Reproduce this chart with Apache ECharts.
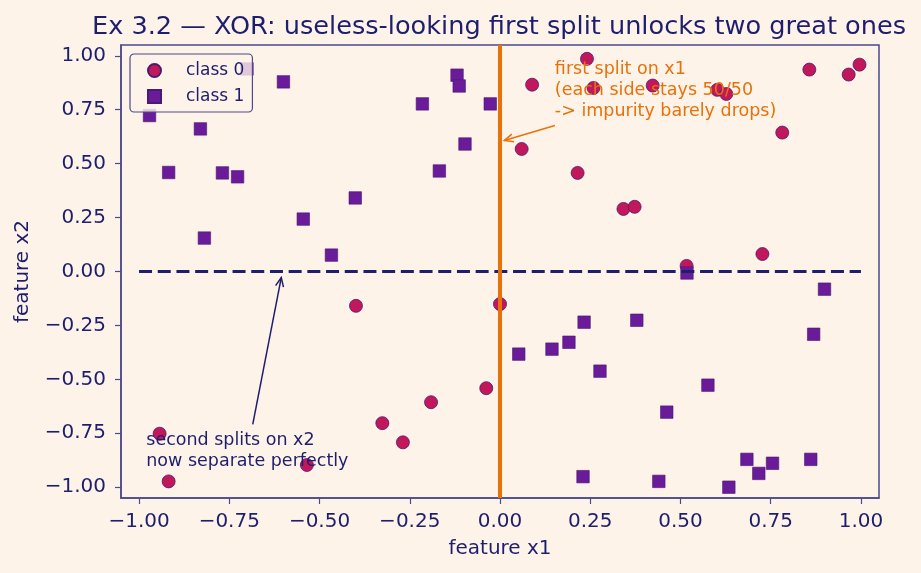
<!DOCTYPE html>
<html>
<head>
<meta charset="utf-8">
<script src="https://cdn.jsdelivr.net/npm/echarts@6/dist/echarts.min.js"></script>
<style>
  html, body { margin: 0; padding: 0; background: #fef3e8; }
  #chart { width: 921px; height: 573px; }
</style>
</head>
<body>
<div id="chart"></div>
<script>
// points: [x1, x2]
const class0 = [
  [0.241, 0.986], [0.089, 0.866], [0.259, 0.851], [0.423, 0.862], [0.602, 0.842],
  [0.627, 0.823], [0.857, 0.936], [0.966, 0.913], [0.996, 0.959], [0.060, 0.568],
  [0.782, 0.644], [0.215, 0.457], [0.342, 0.290], [0.373, 0.300], [0.727, 0.081],
  [0.517, 0.026],
  [-0.399, -0.159], [0.000, -0.151], [-0.038, -0.541], [-0.191, -0.606], [-0.326, -0.703],
  [-0.269, -0.792], [-0.943, -0.752], [-0.918, -0.973], [-0.535, -0.897]
];
const class1 = [
  [-0.971, 0.723], [-0.600, 0.879], [-0.830, 0.661], [-0.918, 0.459], [-0.769, 0.457],
  [-0.727, 0.439], [-0.819, 0.155], [-0.545, 0.243], [-0.467, 0.076], [-0.401, 0.341],
  [-0.215, 0.777], [-0.119, 0.910], [-0.113, 0.860], [-0.027, 0.777], [-0.097, 0.591],
  [-0.168, 0.466], [-0.701, 0.939],
  [0.518, -0.007], [0.052, -0.383],
  [0.899, -0.082], [0.869, -0.291], [0.233, -0.235], [0.379, -0.226], [0.144, -0.360],
  [0.191, -0.328], [0.277, -0.462], [0.576, -0.527], [0.462, -0.652], [0.684, -0.871],
  [0.717, -0.936], [0.755, -0.889], [0.861, -0.871], [0.230, -0.951], [0.440, -0.973],
  [0.634, -1.000]
];
const tickValues = [-1, -0.75, -0.5, -0.25, 0, 0.25, 0.5, 0.75, 1];
const firstSplitX1 = 0;
const secondSplitX2 = 0;
const secondSplitSpan = [-1, 1];

const annotations = [
  {
    lines: ['first split on x1', '(each side stays 50/50', '-> impurity barely drops)'],
    textAt: [0.152, 0.937], tail: [0.152, 0.677], head: [0.012, 0.607], color: '#e8710a'
  },
  {
    lines: ['second splits on x2', 'now separate perfectly'],
    textAt: [-0.980, -0.783], tail: [-0.685, -0.709], head: [-0.606, -0.028], color: '#1e1e6e'
  }
];

const navy = '#1e1e6e';
const spine = '#4a4a8c';
const font = 'DejaVu Sans';

const fmt = function (v) {
  return (v < 0 ? '\u2212' : '') + Math.abs(v).toFixed(2);
};

const axisCommon = {
  type: 'value',
  min: -1.05,
  max: 1.05,
  nameLocation: 'middle',
  nameTextStyle: { fontSize: 20, color: navy, fontFamily: font },
  axisLine: { show: true, onZero: false, lineStyle: { color: spine, width: 1.5 } },
  axisTick: { show: true, length: 6, customValues: tickValues, lineStyle: { color: spine, width: 1.2 } },
  axisLabel: { customValues: tickValues, formatter: fmt, fontSize: 20, color: navy, fontFamily: font },
  splitLine: { show: false }
};

function renderAnnotation(params, api) {
  const a = annotations[params.dataIndex];
  const p0 = api.coord(a.tail);
  const p1 = api.coord(a.head);
  const ang = Math.atan2(p1[1] - p0[1], p1[0] - p0[0]);
  const hl = 9, hw = 4;
  const bx = p1[0] - hl * Math.cos(ang), by = p1[1] - hl * Math.sin(ang);
  const nx = -Math.sin(ang), ny = Math.cos(ang);
  const t = api.coord(a.textAt);
  const children = [
    { type: 'line', shape: { x1: p0[0], y1: p0[1], x2: p1[0], y2: p1[1] },
      style: { stroke: a.color, lineWidth: 1.5 } },
    { type: 'polyline', shape: { points: [[bx + nx * hw, by + ny * hw], p1, [bx - nx * hw, by - ny * hw]] },
      style: { stroke: a.color, lineWidth: 1.5, fill: null } }
  ];
  a.lines.forEach(function (s, i) {
    children.push({
      type: 'text',
      x: t[0], y: t[1] + i * 21,
      style: { text: s, fill: a.color, font: '17.5px "' + font + '"', textAlign: 'left', textVerticalAlign: 'middle' }
    });
  });
  return { type: 'group', children: children };
}

const chart = echarts.init(document.getElementById('chart'));
chart.setOption({
  backgroundColor: '#fef3e8',
  animation: false,
  title: {
    text: 'Ex 3.2 \u2014 XOR: useless-looking first split unlocks two great ones',
    left: 494,
    top: 9,
    textAlign: 'center',
    textStyle: { fontSize: 25.6, fontWeight: 'normal', color: navy, fontFamily: font }
  },
  grid: {
    left: 121, right: 42, top: 45, bottom: 75,
    show: true, borderColor: spine, borderWidth: 1.5, backgroundColor: 'transparent'
  },
  legend: {
    data: ['class 0', 'class 1'],
    orient: 'vertical',
    left: 130,
    top: 54,
    padding: [8, 8, 7, 17],
    itemGap: 9,
    itemWidth: 13,
    itemHeight: 13,
    backgroundColor: 'rgba(254,243,232,0.8)',
    borderColor: spine,
    borderWidth: 1.2,
    borderRadius: 4,
    textStyle: { fontSize: 17, color: navy, fontFamily: font, padding: [0, 0, 0, 20], lineHeight: 17 },
    z: 20
  },
  xAxis: Object.assign({}, axisCommon, {
    name: 'feature x1', nameGap: 41,
    axisLabel: Object.assign({}, axisCommon.axisLabel, { margin: 14 })
  }),
  yAxis: Object.assign({}, axisCommon, {
    name: 'feature x2', nameGap: 88,
    axisLabel: Object.assign({}, axisCommon.axisLabel, { margin: 15 })
  }),
  series: [
    {
      name: 'class 0',
      type: 'scatter',
      symbol: 'circle',
      symbolSize: 13,
      data: class0,
      itemStyle: { color: '#c2185b', borderColor: '#4a1a6e', borderWidth: 0.8, opacity: 1 },
      z: 2
    },
    {
      name: 'class 1',
      type: 'scatter',
      symbol: 'rect',
      symbolSize: 12.5,
      data: class1,
      itemStyle: { color: '#6a1b9a', borderColor: '#4a1a6e', borderWidth: 0.6, opacity: 1 },
      z: 3
    },
    {
      name: 'second split',
      type: 'line',
      data: secondSplitSpan.map(function (x) { return [x, secondSplitX2]; }),
      symbol: 'none',
      lineStyle: { color: '#1e1e6e', width: 3.2, type: [13, 5.7] },
      silent: true,
      z: 4
    },
    {
      name: 'first split',
      type: 'line',
      data: [],
      markLine: {
        silent: true,
        symbol: ['none', 'none'],
        label: { show: false },
        lineStyle: { color: '#e8710a', width: 4, type: 'solid' },
        data: [{ xAxis: firstSplitX1 }]
      },
      z: 5
    },
    {
      type: 'custom',
      data: annotations.map(function (a, i) { return [i]; }),
      renderItem: renderAnnotation,
      silent: true,
      z: 6
    }
  ]
});
</script>
</body>
</html>
